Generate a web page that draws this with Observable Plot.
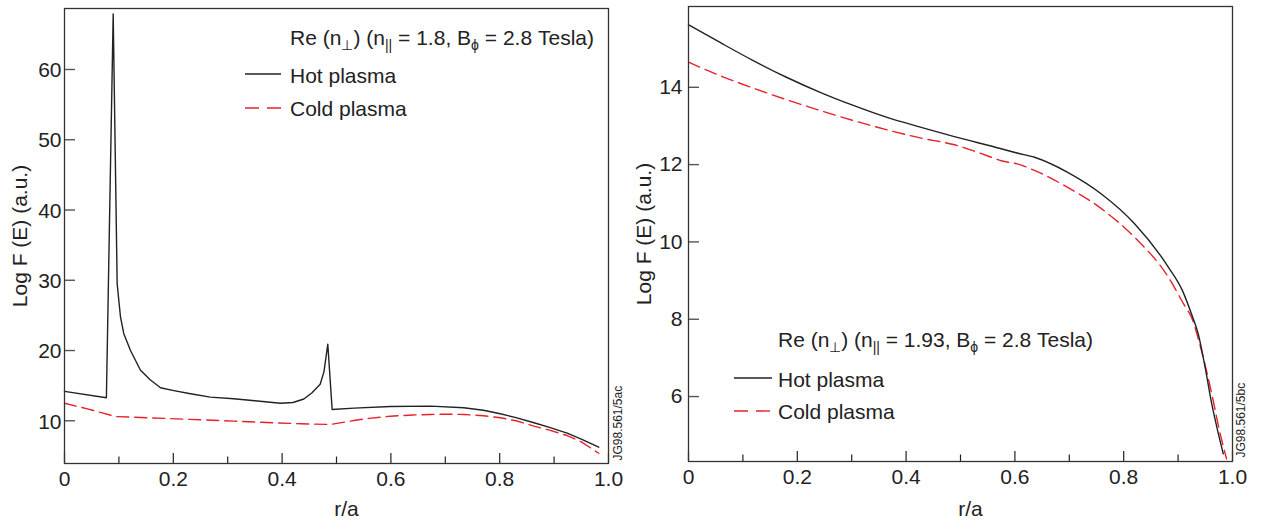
<!DOCTYPE html>
<html><head><meta charset="utf-8">
<script src="https://cdn.jsdelivr.net/npm/d3@7"></script>
<script src="https://cdn.jsdelivr.net/npm/@observablehq/plot@0.6"></script>
<style>
body{margin:0;background:#fff;}
#wrap{position:relative;width:1263px;height:523px;font-family:"Liberation Sans",Arial,Helvetica,sans-serif;}
#wrap svg{position:absolute;top:0;overflow:visible;}
</style></head><body><div id="wrap"></div>
<script>
// ---------- data ----------
const xMajorTicks = [0, 0.2, 0.4, 0.6, 0.8, 1.0];
const xMinorTicks = [0.1, 0.3, 0.5, 0.7, 0.9];
const leftYTicks = [10, 20, 30, 40, 50, 60];
const rightYTicks = [6, 8, 10, 12, 14];

const leftHotX = [0, 0.077, 0.0895, 0.0968, 0.0999, 0.1029, 0.109, 0.1213, 0.1397, 0.158, 0.1765, 0.201, 0.2316, 0.268, 0.311, 0.35, 0.397, 0.42, 0.44, 0.455, 0.47, 0.477, 0.484, 0.492, 0.532, 0.599, 0.673, 0.734, 0.77, 0.801, 0.83, 0.863, 0.89, 0.924, 0.95, 0.982];
const leftHotY = [14.18, 13.28, 67.9, 29.5, 27.1, 24.8, 22.4, 20.0, 17.2, 15.8, 14.7, 14.3, 13.85, 13.36, 13.13, 12.85, 12.5, 12.6, 13.1, 14.0, 15.2, 17.0, 20.9, 11.6, 11.8, 12.04, 12.08, 11.85, 11.5, 11.0, 10.45, 9.72, 9.1, 8.24, 7.4, 6.24];

const leftColdX = [0, 0.042, 0.094, 0.189, 0.311, 0.434, 0.489, 0.532, 0.56, 0.599, 0.64, 0.673, 0.7, 0.734, 0.77, 0.801, 0.83, 0.863, 0.89, 0.924, 0.95, 0.982];
const leftColdY = [12.5, 11.7, 10.6, 10.33, 9.95, 9.57, 9.47, 10.04, 10.35, 10.65, 10.82, 10.9, 10.93, 10.9, 10.72, 10.43, 10.0, 9.23, 8.7, 7.9, 7.0, 5.38];

const rightHotX = [0, 0.058, 0.119, 0.18, 0.242, 0.303, 0.365, 0.426, 0.487, 0.575, 0.604, 0.636, 0.697, 0.759, 0.82, 0.882, 0.908, 0.9245, 0.937, 0.9496, 0.9619, 0.974, 0.983];
const rightHotY = [15.62, 15.16, 14.69, 14.26, 13.87, 13.53, 13.22, 12.97, 12.73, 12.41, 12.30, 12.19, 11.80, 11.24, 10.47, 9.35, 8.74, 8.14, 7.62, 6.76, 5.81, 5.04, 4.52];

const rightColdX = [0, 0.058, 0.119, 0.18, 0.242, 0.303, 0.365, 0.426, 0.487, 0.549, 0.575, 0.604, 0.636, 0.697, 0.759, 0.82, 0.882, 0.912, 0.9245, 0.9429, 0.9619, 0.976, 0.989];
const rightColdY = [14.65, 14.30, 13.98, 13.68, 13.40, 13.14, 12.90, 12.69, 12.52, 12.23, 12.10, 12.02, 11.85, 11.41, 10.86, 10.12, 9.09, 8.35, 8.05, 7.19, 6.07, 5.12, 4.39];

const legendLabels = ["Hot plasma", "Cold plasma"];
const leftTitleParts = [["Re (n", 0], ["\u22A5", 1], [") (n", 0], ["||", 1], [" = 1.8, B", 0], ["\u03D5", 1], [" = 2.8 Tesla)", 0]];
const rightTitleParts = [["Re (n", 0], ["\u22A5", 1], [") (n", 0], ["||", 1], [" = 1.93, B", 0], ["\u03D5", 1], [" = 2.8 Tesla)", 0]];
const xLabel = "r/a";
const yLabel = "Log F (E) (a.u.)";
const leftCode = "JG98.561/5ac";
const rightCode = "JG98.561/5bc";

const toRows = (xs, ys) => xs.map((x, i) => ({x, y: ys[i]}));

const INK = "#222";
const RED = "#e8202a";
const FONT = '"Liberation Sans", Arial, Helvetica, sans-serif';
const FS = 21;

function panel(cfg) {
  const {width, height, ml, mr, mt, mb, yDomain, yTicks, hot, cold, code, ypad, labelDy, curve} = cfg;
  const fmt = d => d === 0 ? "0" : d.toFixed(1);
  const blank = () => "";
  return Plot.plot({
    width, height,
    marginLeft: ml, marginRight: mr, marginTop: mt, marginBottom: mb,
    style: {fontFamily: FONT, fontSize: FS + "px", color: INK, background: "transparent", overflow: "visible"},
    x: {domain: [0, 1]},
    y: {domain: yDomain},
    marks: [
      // labels
      Plot.axisX(xMajorTicks, {tickSize: 0, tickPadding: 8, tickFormat: fmt, fontSize: FS, label: null, fill: INK}),
      Plot.axisY(yTicks, {tickSize: 0, tickPadding: ypad, fontSize: FS, label: null, fill: INK, dy: cfg.ydy}),
      // inward ticks
      Plot.axisX(xMajorTicks, {tickSize: -10, tickPadding: 0, tickFormat: blank, label: null, stroke: INK, strokeWidth: 1.2}),
      Plot.axisX(xMinorTicks, {tickSize: -6.5, tickPadding: 0, tickFormat: blank, label: null, stroke: INK, strokeWidth: 1.2}),
      Plot.axisY(yTicks, {tickSize: -11, tickPadding: 0, tickFormat: blank, label: null, stroke: "#555", strokeWidth: 1.4}),
      Plot.line(cold, {x: "x", y: "y", stroke: RED, strokeWidth: 1.4, strokeDasharray: "12,6", curve}),
      Plot.line(hot, {x: "x", y: "y", stroke: INK, strokeWidth: 1.4, curve}),
      Plot.frame({stroke: "#333", strokeWidth: 1.3}),
      Plot.text([yLabel], {frameAnchor: "left", rotate: -90, dx: -38, lineAnchor: "bottom", textAnchor: "middle", fontSize: FS, fill: INK}),
      Plot.text([xLabel], {frameAnchor: "bottom", dx: 10, dy: labelDy, lineAnchor: "bottom", fontSize: FS, fill: INK}),
      Plot.text([code], {frameAnchor: "bottom-right", rotate: -90, textAnchor: "start", lineAnchor: "bottom", dx: cfg.codeDx, dy: cfg.codeDy, fontSize: 12, fill: INK})
    ]
  });
}

function addLegend(svg, lg, parts) {
  const g = d3.select(svg).append("g").attr("font-family", FONT).attr("fill", INK).attr("text-anchor", "start");
  const t = g.append("text").attr("x", lg.tx).attr("y", lg.ty).attr("font-size", FS).attr("text-anchor", "start")
    .attr("textLength", lg.tw).attr("lengthAdjust", "spacing");
  let shifted = 0;
  parts.forEach(([s, sub]) => {
    const ts = t.append("tspan").text(s);
    if (sub && !shifted) { ts.attr("dy", 5).attr("font-size", 14); shifted = 1; }
    else if (sub) { ts.attr("font-size", 14); }
    else if (shifted) { ts.attr("dy", -5); shifted = 0; }
  });
  g.append("line").attr("x1", lg.lx1).attr("x2", lg.lx2).attr("y1", lg.hy).attr("y2", lg.hy)
    .attr("stroke", INK).attr("stroke-width", 1.4);
  g.append("line").attr("x1", lg.lx1).attr("x2", lg.lx2).attr("y1", lg.cy).attr("y2", lg.cy)
    .attr("stroke", RED).attr("stroke-width", 1.4).attr("stroke-dasharray", "14,8");
  g.append("text").attr("x", lg.tx).attr("y", lg.hy + 9).attr("font-size", FS).attr("text-anchor", "start").text(legendLabels[0]);
  g.append("text").attr("x", lg.tx).attr("y", lg.cy + 8).attr("font-size", FS).attr("text-anchor", "start").text(legendLabels[1]);
}

const wrap = document.getElementById("wrap");

const left = panel({width: 631, height: 523, ml: 64, mr: 23, mt: 8, mb: 60,
  yDomain: [3.92, 68.68], yTicks: leftYTicks,
  hot: toRows(leftHotX, leftHotY), cold: toRows(leftColdX, leftColdY),
  code: leftCode, ypad: 3, ydy: 1, labelDy: 52, codeDx: 13, codeDy: -3, curve: "linear"});
left.style.left = "0px";
wrap.appendChild(left);
addLegend(left, {tx: 290, ty: 45, tw: 304, lx1: 245, lx2: 281, hy: 74, cy: 108}, leftTitleParts);

const right = panel({width: 632, height: 523, ml: 57, mr: 31, mt: 6, mb: 62,
  yDomain: [4.32, 16.09], yTicks: rightYTicks,
  hot: toRows(rightHotX, rightHotY), cold: toRows(rightColdX, rightColdY),
  code: rightCode, ypad: 6, ydy: 0, labelDy: 54, codeDx: 12, codeDy: -4, curve: "monotone-x"});
right.style.left = "631px";
wrap.appendChild(right);
addLegend(right, {tx: 147, ty: 347, tw: 315, lx1: 103, lx2: 141, hy: 378, cy: 411}, rightTitleParts);
</script></body></html>
